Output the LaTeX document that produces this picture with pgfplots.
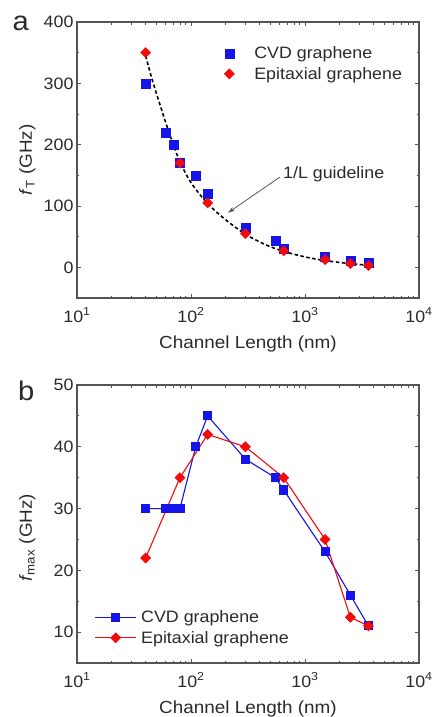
\documentclass[border=0pt]{standalone}
\usepackage{fontspec}
\setmainfont{Liberation Sans}[FakeStretch=1.08]
\usepackage{pgfplots}
\pgfplotsset{compat=1.18}
\usetikzlibrary{arrows.meta}

\definecolor{txt}{HTML}{2A2A2A}
\definecolor{axl}{HTML}{555555}
\definecolor{cvd}{RGB}{20,20,235}
\definecolor{epi}{RGB}{245,10,10}

\pgfplotsset{
  panel/.style={
    scale only axis, width=342pt,
    xmin=10, xmax=10000,
    xtick={10,100,1000,10000},
    xticklabels={10\textsuperscript{1},10\textsuperscript{2},10\textsuperscript{3},10\textsuperscript{4}},
    minor xtick={20,30,40,50,60,70,80,90,200,300,400,500,600,700,800,900,2000,3000,4000,5000,6000,7000,8000,9000},
    axis line style={axl, line width=1.1pt},
    tick style={axl, line width=0.9pt},
    major tick length=4pt, minor tick length=2.5pt,
    tick align=inside,
    tick label style={font=\fontsize{16.5}{18}\selectfont, text=txt},
    xticklabel style={anchor=base, yshift=-24pt},
    label style={font=\fontsize{17.5}{19}\selectfont, text=txt},
    xlabel={Channel Length (nm)},
    x label style={at={(axis description cs:0.5,0)}, anchor=base, yshift=-50pt},
  },
}

\begin{document}
\begin{tikzpicture}
\path[use as bounding box] (0,0) rectangle (433pt,-717pt);

% (a) cut-off frequency
\begin{semilogxaxis}[panel,
  /pgf/number format/assume math mode=true,
  at={(77pt,-298pt)}, anchor=south west, height=276pt,
  ymin=-50, ymax=400,
  ytick={0,100,200,300,400},
  minor ytick={50,150,250,350},
  ylabel={\textit{f}\textsubscript{T} (GHz)},
  y label style={at={(axis description cs:-0.1316,0.5)}, anchor=base},
  legend image code/.code={
    \path[draw=none, fill=none] (0pt,-5pt) rectangle (30.5pt,5pt);
    \draw[mark repeat=2,mark phase=2,#1] plot coordinates {(0pt,0pt)(8.5pt,0pt)(17pt,0pt)};},
  legend style={at={(0.42,0.922)}, anchor=north west, draw=none, fill=none,
    inner sep=0pt, row sep=1pt, font=\fontsize{16.5}{18}\selectfont, text=txt,
    nodes={inner sep=3pt}},
  legend cell align=left,
]
\addplot[only marks, mark=square*, mark size=4.5pt, color=cvd]
  coordinates {(40,300)(60,220)(70,200)(80,170)(110,150)(140,120)(300,65)(550,44)(650,30)(1500,17)(2500,11)(3600,7)};
\addlegendentry{CVD graphene}
\addplot[only marks, mark=square*, mark size=3.6pt, mark options={rotate=45}, color=epi]
  coordinates {(40,350)(80,170)(140,105)(300,55)(650,27)(1500,12.5)(2500,6)(3600,3)};
\addlegendentry{Epitaxial graphene}
\addplot[forget plot, black, line width=1.6pt, dash pattern=on 3.5pt off 2.5pt, smooth]
  coordinates {(40,345)(45,310)(50,282)(55,258)(60,236)(70,200)(80,172)(100,138)(140,104)(200,78)(300,54)(450,37)(650,26)(1000,17)(1500,11)(2500,6)(3600,3.5)};
\draw[-{Stealth[length=7pt,width=4.5pt]}, axl, line width=0.8pt] (axis cs:600,147) -- (axis cs:211,89);
\node[anchor=west, inner sep=0pt, text=txt, font=\fontsize{16.5}{18}\selectfont] at (axis cs:641,152.5) {1/L guideline};
\end{semilogxaxis}

% (b) maximum oscillation frequency
\begin{semilogxaxis}[panel,
  /pgf/number format/assume math mode=true,
  at={(77pt,-663pt)}, anchor=south west, height=278pt,
  ymin=5, ymax=50,
  ytick={10,20,30,40,50},
  minor ytick={15,25,35,45},
  ylabel={\textit{f}\textsubscript{max} (GHz)},
  y label style={at={(axis description cs:-0.1316,0.45)}, anchor=base},
  legend image code/.code={
    \draw[mark repeat=2,mark phase=2,#1] plot coordinates {(0pt,0pt)(20.5pt,0pt)(41pt,0pt)};},
  legend style={at={(0.051,0.198)}, anchor=north west, draw=none, fill=none,
    inner sep=0pt, row sep=2pt, column sep=2pt, font=\fontsize{16.5}{18}\selectfont, text=txt,
    nodes={inner sep=2.5pt}},
  legend cell align=left,
]
\addplot[color=cvd, line width=1.1pt, mark=square*, mark size=4pt]
  coordinates {(40,30)(60,30)(70,30)(80,30)(110,40)(140,45)(300,38)(550,35)(650,33)(1500,23)(2500,16)(3600,11)};
\addlegendentry{CVD graphene}
\addplot[color=epi, line width=1.1pt, mark=square*, mark size=3.3pt, mark options={rotate=45}]
  coordinates {(40,22)(80,35)(140,42)(300,40)(650,35)(1500,25)(2500,12.4)(3600,11)};
\addlegendentry{Epitaxial graphene}
\end{semilogxaxis}

\node[anchor=base west, inner sep=0pt, text=txt, font=\fontsize{27}{30}\selectfont] at (12.5pt,-30.7pt) {a};
\node[anchor=base west, inner sep=0pt, text=txt, font=\fontsize{27}{30}\selectfont] at (18pt,-400pt) {b};
\end{tikzpicture}
\end{document}
